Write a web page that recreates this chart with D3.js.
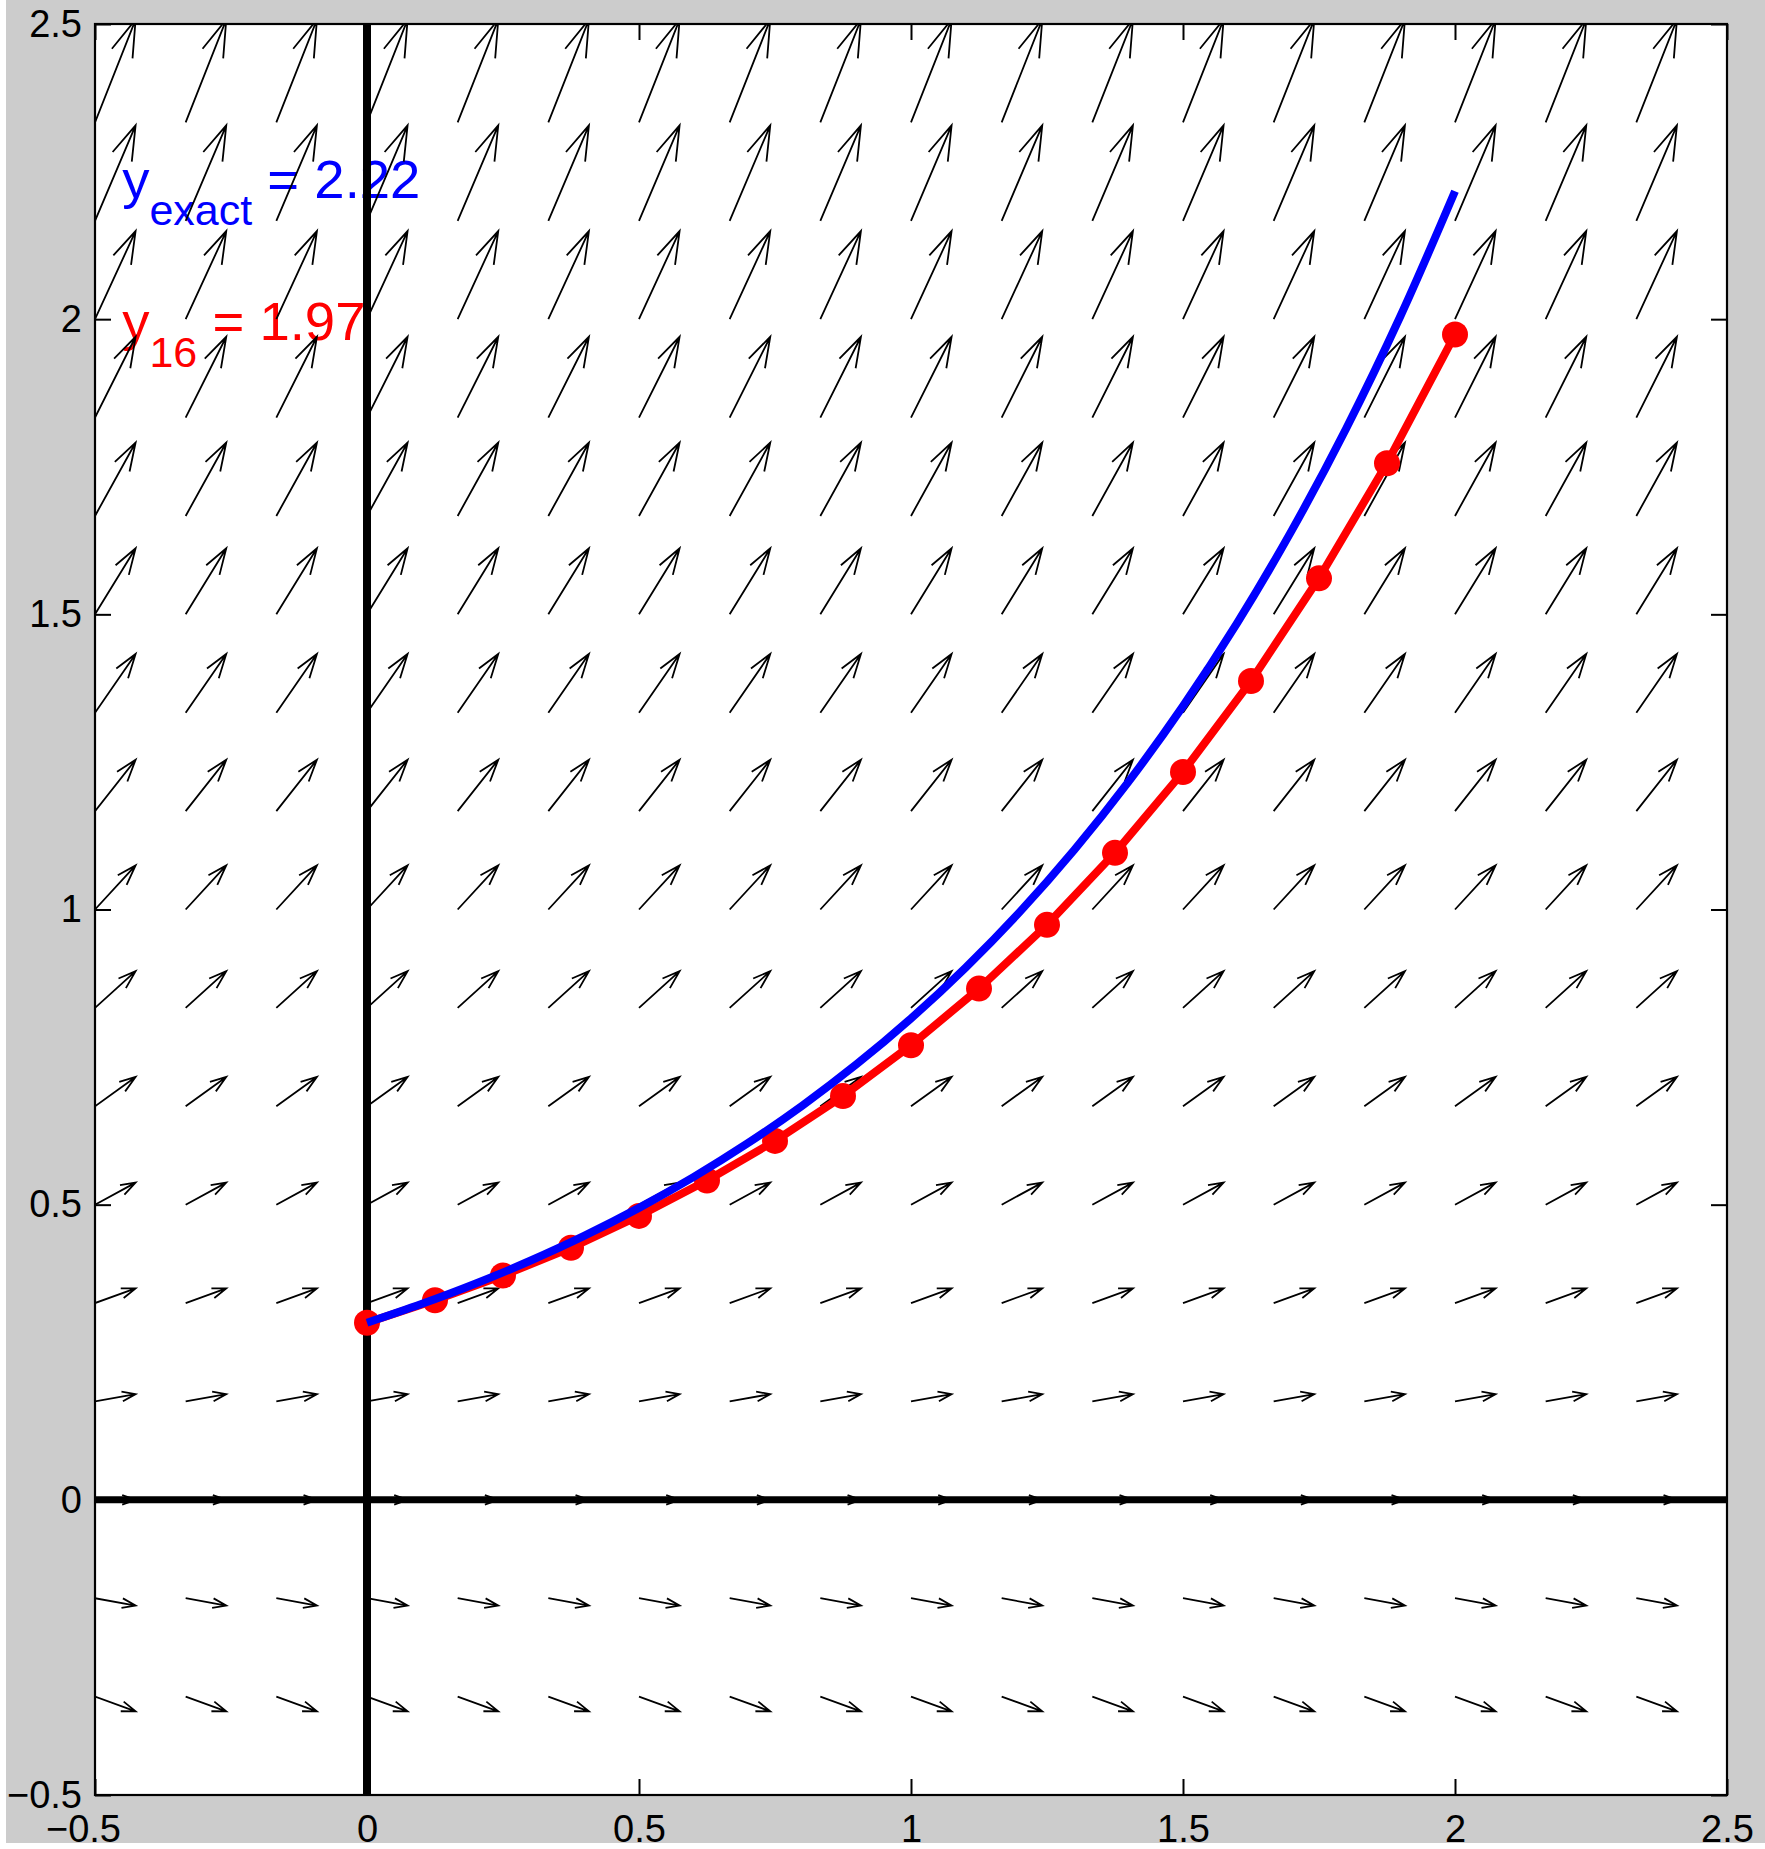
<!DOCTYPE html>
<html>
<head>
<meta charset="utf-8">
<script src="https://cdn.jsdelivr.net/npm/d3@7"></script>
<style>
  html, body { margin: 0; padding: 0; background: #ffffff; }
  svg { display: block; }
  text { font-family: "Liberation Sans", Arial, Helvetica, sans-serif; }
</style>
</head>
<body>
<svg id="chart" width="1765" height="1849"></svg>
<script>
// Euler's method for y' = y, y(0) = 0.3, step h = 0.125 (16 steps)
const eulerT = [0, 0.125, 0.25, 0.375, 0.5, 0.625, 0.75, 0.875, 1,
                1.125, 1.25, 1.375, 1.5, 1.625, 1.75, 1.875, 2];
const eulerY = [0.300, 0.338, 0.380, 0.427, 0.481, 0.541, 0.608, 0.684, 0.770,
                0.866, 0.974, 1.096, 1.233, 1.387, 1.561, 1.756, 1.974];

// exact solution samples
const exactT = [0, 0.1, 0.2, 0.3, 0.4, 0.5, 0.6, 0.7, 0.8, 0.9, 1,
                1.1, 1.2, 1.3, 1.4, 1.5, 1.6, 1.7, 1.8, 1.9, 2];
const exactY = [0.300, 0.3316, 0.3664, 0.4050, 0.4475, 0.4946, 0.5466, 0.6041,
                0.6677, 0.7379, 0.8155, 0.9013, 0.9960, 1.1008, 1.2166, 1.3445,
                1.4859, 1.6422, 1.8149, 2.0058, 2.2167];

// direction-field grid
const gridT = [-0.5, -1/3, -1/6, 0, 1/6, 1/3, 0.5, 2/3, 5/6, 1,
               7/6, 4/3, 1.5, 5/3, 11/6, 2, 13/6, 7/3, 2.5];
const gridY = [-0.5, -1/3, -1/6, 0, 1/6, 1/3, 0.5, 2/3, 5/6, 1,
               7/6, 4/3, 1.5, 5/3, 11/6, 2, 13/6, 7/3, 2.5];

// axes ticks
const xTicks = [-0.5, 0, 0.5, 1, 1.5, 2, 2.5];
const xTickLabels = ["\u22120.5", "0", "0.5", "1", "1.5", "2", "2.5"];
const yTicks = [-0.5, 0, 0.5, 1, 1.5, 2, 2.5];
const yTickLabels = ["\u22120.5", "0", "0.5", "1", "1.5", "2", "2.5"];

// right-hand side of the ODE
const slope = (t, y) => y;

const W = 1765, H = 1849;
const plot = { left: 95, right: 1727, top: 24, bottom: 1795 };

const svg = d3.select("#chart");

// figure background
svg.append("rect").attr("x", 6).attr("y", 0)
  .attr("width", W - 6).attr("height", 1843).attr("fill", "#cccccc");

const x = d3.scaleLinear().domain([-0.5, 2.5]).range([plot.left, plot.right]);
const y = d3.scaleLinear().domain([-0.5, 2.5]).range([plot.bottom, plot.top]);

// axes area
svg.append("rect")
  .attr("x", plot.left).attr("y", plot.top)
  .attr("width", plot.right - plot.left).attr("height", plot.bottom - plot.top)
  .attr("fill", "#ffffff");

svg.append("defs").append("clipPath").attr("id", "plotClip")
  .append("rect")
  .attr("x", plot.left).attr("y", plot.top)
  .attr("width", plot.right - plot.left).attr("height", plot.bottom - plot.top);

const g = svg.append("g").attr("clip-path", "url(#plotClip)");

// value annotations
const fmt = d3.format(".2f");
function annotate(tx, ty, sub, value, color) {
  const t = g.append("text")
    .attr("x", x(tx)).attr("y", y(ty))
    .attr("fill", color).attr("font-size", 54.5);
  t.append("tspan").text("y");
  t.append("tspan").attr("font-size", 43).attr("dy", 27).text(sub);
  t.append("tspan").attr("dy", -27).text(" = " + fmt(value));
}
annotate(-0.45, 2.206, "exact", exactY[exactY.length - 1], "#0000ff");
annotate(-0.45, 1.964, "16", eulerY[eulerY.length - 1], "#ff0000");

// direction field, quiver-style autoscaling
const field = [];
gridY.forEach(yy => gridT.forEach(tt => field.push({ t: tt, y: yy, u: 1, v: slope(tt, yy) })));
const n = Math.sqrt(field.length);
const delx = (d3.max(gridT) - d3.min(gridT)) / n;
const dely = (d3.max(gridY) - d3.min(gridY)) / n;
const del = delx * delx + dely * dely;
const maxlen = d3.max(field, d => Math.sqrt((d.u * d.u + d.v * d.v) / del));
const k = 0.9 / maxlen;
const alpha = 0.33, beta = 0.33, eps = 2.2e-16;

const arrowPath = d => {
  const u = d.u * k, v = d.v * k;
  const x1 = d.t + u, y1 = d.y + v;
  const p = d3.path();
  p.moveTo(x(d.t), y(d.y));
  p.lineTo(x(x1), y(y1));
  p.moveTo(x(x1 - alpha * (u + beta * (v + eps))), y(y1 - alpha * (v - beta * (u + eps))));
  p.lineTo(x(x1), y(y1));
  p.lineTo(x(x1 - alpha * (u - beta * (v + eps))), y(y1 - alpha * (v + beta * (u + eps))));
  return p.toString();
};

g.append("g").selectAll("path").data(field).join("path")
  .attr("d", arrowPath)
  .attr("fill", "none").attr("stroke", "#000000")
  .attr("stroke-width", 1.8).attr("stroke-linejoin", "miter");

// coordinate axes through the origin
g.append("line")
  .attr("x1", x(0)).attr("x2", x(0)).attr("y1", plot.top).attr("y2", plot.bottom)
  .attr("stroke", "#000000").attr("stroke-width", 8);
g.append("line")
  .attr("x1", plot.left).attr("x2", plot.right).attr("y1", y(0)).attr("y2", y(0))
  .attr("stroke", "#000000").attr("stroke-width", 7);

// Euler approximation
const eulerPts = eulerT.map((t, i) => [t, eulerY[i]]);
g.append("path")
  .datum(eulerPts)
  .attr("d", d3.line().x(d => x(d[0])).y(d => y(d[1])))
  .attr("fill", "none").attr("stroke", "#ff0000").attr("stroke-width", 8)
  .attr("stroke-linejoin", "round");
g.append("g").selectAll("circle").data(eulerPts).join("circle")
  .attr("cx", d => x(d[0])).attr("cy", d => y(d[1])).attr("r", 13)
  .attr("fill", "#ff0000");

// exact solution
const exactPts = exactT.map((t, i) => [t, exactY[i]]);
g.append("path")
  .datum(exactPts)
  .attr("d", d3.line().x(d => x(d[0])).y(d => y(d[1])).curve(d3.curveCatmullRom))
  .attr("fill", "none").attr("stroke", "#0000ff").attr("stroke-width", 8)
  .attr("stroke-linecap", "butt");

// axes with inward ticks on all four sides
const tickLen = 16;
const bottomAxis = d3.axisBottom(x).tickValues(xTicks)
  .tickFormat((d, i) => xTickLabels[i]).tickSizeInner(-tickLen).tickSizeOuter(0).tickPadding(20);
const topAxis = d3.axisTop(x).tickValues(xTicks)
  .tickFormat("").tickSizeInner(-tickLen).tickSizeOuter(0);
const leftAxis = d3.axisLeft(y).tickValues(yTicks)
  .tickFormat((d, i) => yTickLabels[i]).tickSizeInner(-tickLen).tickSizeOuter(0).tickPadding(13);
const rightAxis = d3.axisRight(y).tickValues(yTicks)
  .tickFormat("").tickSizeInner(-tickLen).tickSizeOuter(0);

function styleAxis(sel) {
  sel.select(".domain").remove();
  sel.selectAll(".tick line").attr("stroke", "#000000").attr("stroke-width", 2);
  sel.selectAll(".tick text").attr("fill", "#000000")
    .attr("font-size", 38).attr("font-family", "'Liberation Sans', Arial, Helvetica, sans-serif");
}

const gb = svg.append("g").attr("transform", `translate(0,${plot.bottom})`).call(bottomAxis).call(styleAxis);
// first x label sits left of its tick, clear of the y labels
gb.selectAll(".tick text").filter((d, i) => i === 0).attr("dx", -12);
svg.append("g").attr("transform", `translate(0,${plot.top})`).call(topAxis).call(styleAxis);
svg.append("g").attr("transform", `translate(${plot.left},0)`).call(leftAxis).call(styleAxis);
svg.append("g").attr("transform", `translate(${plot.right},0)`).call(rightAxis).call(styleAxis);

// axes box
svg.append("rect")
  .attr("x", plot.left).attr("y", plot.top)
  .attr("width", plot.right - plot.left).attr("height", plot.bottom - plot.top)
  .attr("fill", "none").attr("stroke", "#000000").attr("stroke-width", 2.2);
</script>
</body>
</html>
